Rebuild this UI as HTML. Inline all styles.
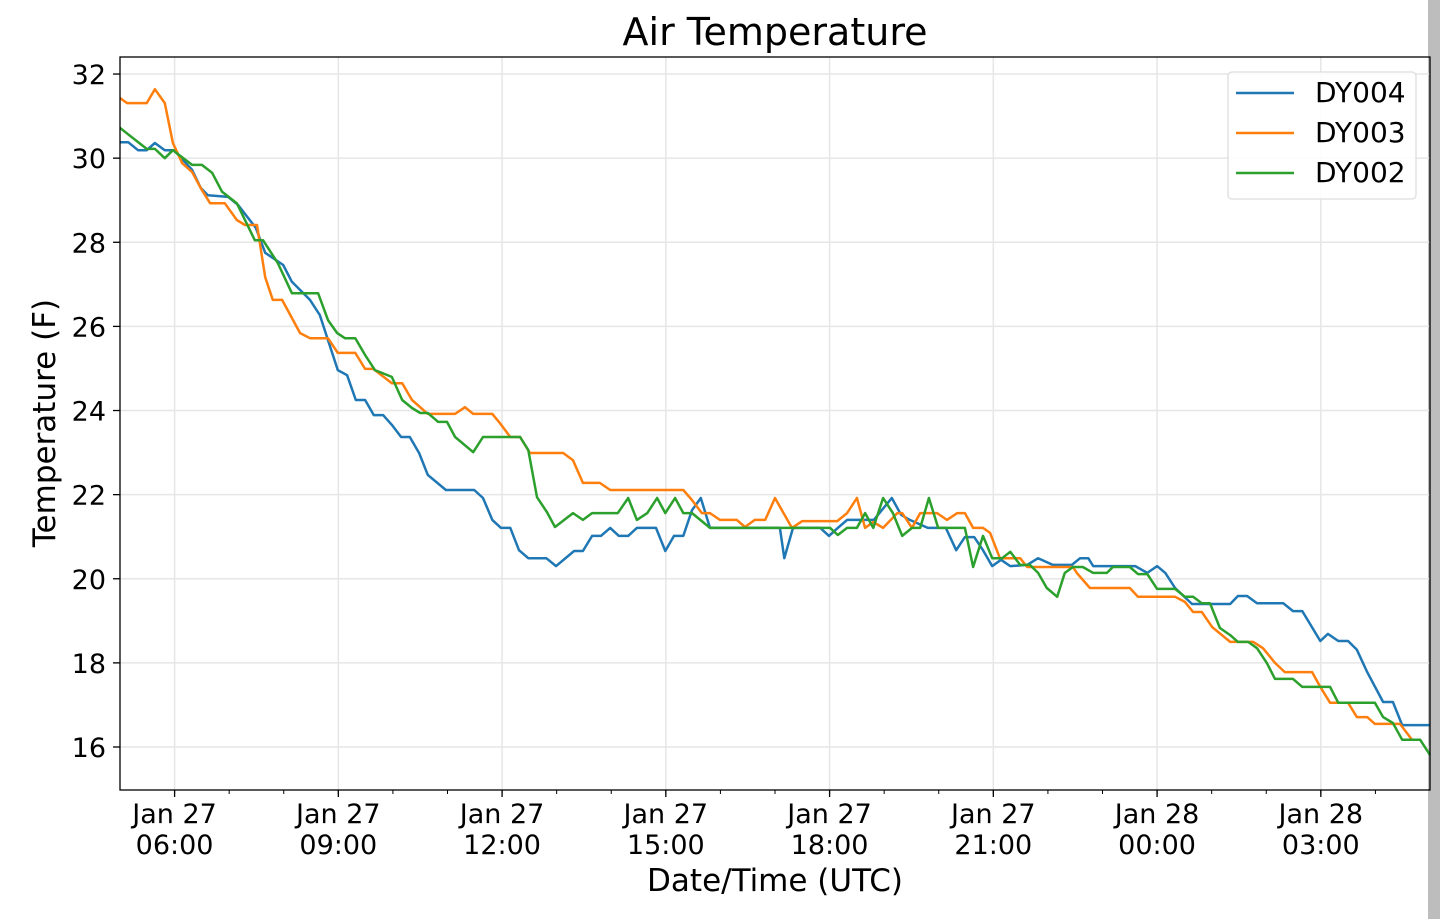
<!DOCTYPE html>
<html><head><meta charset="utf-8"><style>
html,body{margin:0;padding:0;background:#fff;}
svg{display:block;font-family:"DejaVu Sans","Liberation Sans",sans-serif;}
</style></head><body>
<svg id="chart" width="1440" height="919" viewBox="0 0 1440 919" xmlns="http://www.w3.org/2000/svg">
<rect x="0" y="0" width="1440" height="919" fill="#fff"/>
<rect x="1428" y="0" width="12" height="919" fill="#bdbdbd"/>
<text x="775" y="45" font-size="38" text-anchor="middle" fill="#000">Air Temperature</text>
<g id="grid"></g>
<g id="series"></g>
<rect x="120" y="57" width="1310" height="733" fill="none" stroke="#000" stroke-width="1.3"/>
<g id="axes"></g>
<text transform="translate(55,423) rotate(-90)" font-size="31" text-anchor="middle" fill="#000">Temperature (F)</text>
<text x="775" y="891" font-size="31" text-anchor="middle" fill="#000">Date/Time (UTC)</text>
<g>
<rect x="1228" y="72" width="188" height="127" rx="4" fill="#fff" fill-opacity="0.85" stroke="#ddd" stroke-width="1.3"/>
<g><line x1="1236" y1="93" x2="1294" y2="93" stroke="#1f77b4" stroke-width="2.5"/><text x="1315" y="102" font-size="28" fill="#000">DY004</text></g>
<g><line x1="1236" y1="133" x2="1294" y2="133" stroke="#ff7f0e" stroke-width="2.5"/><text x="1315" y="142" font-size="28" fill="#000">DY003</text></g>
<g><line x1="1236" y1="173" x2="1294" y2="173" stroke="#2ca02c" stroke-width="2.5"/><text x="1315" y="182" font-size="28" fill="#000">DY002</text></g>
</g>
</svg>
<script>
// hours since Jan 27 05:00 UTC
const yTicks = [16,18,20,22,24,26,28,30,32];
const xTickHours = [1,4,7,10,13,16,19,22];
const xTickDates = ["Jan 27","Jan 27","Jan 27","Jan 27","Jan 27","Jan 27","Jan 28","Jan 28"];
const xTickTimes = ["06:00","09:00","12:00","15:00","18:00","21:00","00:00","03:00"];

const dy004Hours = [0,.15,.33,.49,.64,.82,.99,1.15,1.32,1.48,1.61,1.98,2.16,2.49,2.66,2.99,3.15,3.48,3.66,3.99,4.16,4.32,4.49,4.65,4.82,4.98,5.15,5.31,5.48,5.64,5.97,6.49,6.65,6.82,6.98,7.15,7.31,7.48,7.81,7.99,8.32,8.48,8.65,8.81,8.98,9.14,9.31,9.47,9.82,9.99,10.15,10.32,10.48,10.64,10.81,12.09,12.17,12.33,12.83,12.99,13.15,13.32,13.81,14.14,14.31,14.47,14.80,15.13,15.32,15.48,15.65,15.81,15.98,16.14,16.31,16.62,16.82,17.09,17.44,17.59,17.74,17.83,18.60,18.82,19.00,19.15,19.33,19.64,20.34,20.48,20.65,20.83,21.31,21.49,21.66,21.99,22.13,22.32,22.50,22.66,22.85,23.14,23.32,23.49,24.00];
const dy004Temps = [30.38,30.38,30.19,30.19,30.36,30.19,30.19,29.96,29.72,29.29,29.12,29.08,28.89,28.34,27.75,27.46,27.06,26.63,26.27,24.96,24.84,24.25,24.25,23.89,23.89,23.66,23.37,23.37,22.99,22.47,22.11,22.11,21.92,21.40,21.21,21.21,20.68,20.49,20.49,20.30,20.66,20.66,21.02,21.02,21.21,21.02,21.02,21.21,21.21,20.66,21.02,21.02,21.63,21.92,21.21,21.21,20.49,21.21,21.21,21.02,21.21,21.40,21.40,21.92,21.52,21.40,21.21,21.21,20.68,20.99,20.99,20.68,20.30,20.45,20.30,20.33,20.49,20.33,20.33,20.49,20.49,20.30,20.30,20.14,20.30,20.14,19.78,19.40,19.40,19.59,19.59,19.42,19.42,19.23,19.23,18.52,18.69,18.52,18.52,18.31,17.78,17.07,17.07,16.52,16.52];

const dy003Hours = [0,.13,.49,.64,.82,.97,1.14,1.32,1.50,1.65,1.92,2.14,2.29,2.51,2.66,2.80,2.97,3.30,3.48,3.81,3.99,4.31,4.49,4.64,4.98,5.17,5.35,5.64,6.14,6.32,6.47,6.82,6.96,7.15,7.33,7.51,8.12,8.30,8.48,8.79,8.98,10.32,10.48,10.66,10.81,10.99,11.30,11.45,11.63,11.82,12.00,12.31,12.50,13.14,13.32,13.50,13.65,13.80,13.98,14.24,14.33,14.51,14.66,14.97,15.15,15.34,15.48,15.63,15.81,15.94,16.12,16.49,16.62,17.46,17.53,17.77,18.50,18.65,19.33,19.51,19.66,19.82,20.01,20.34,20.76,20.94,21.16,21.34,21.84,21.99,22.17,22.50,22.66,22.85,22.99,23.45,23.67];
const dy003Temps = [31.43,31.31,31.31,31.64,31.31,30.36,29.88,29.67,29.24,28.93,28.93,28.53,28.41,28.41,27.17,26.63,26.63,25.84,25.72,25.72,25.37,25.37,24.99,24.99,24.65,24.65,24.25,23.92,23.92,24.08,23.92,23.92,23.70,23.37,23.37,22.99,22.99,22.82,22.28,22.28,22.11,22.11,21.87,21.56,21.56,21.40,21.40,21.23,21.40,21.40,21.92,21.21,21.37,21.37,21.56,21.92,21.21,21.35,21.21,21.56,21.56,21.21,21.56,21.56,21.40,21.56,21.56,21.21,21.21,21.09,20.49,20.49,20.28,20.28,20.14,19.78,19.78,19.57,19.57,19.45,19.21,19.21,18.85,18.50,18.50,18.35,18.00,17.78,17.78,17.43,17.05,17.05,16.71,16.71,16.55,16.55,16.17];

const dy002Hours = [0,.49,.64,.82,.97,1.32,1.50,1.69,1.87,2.14,2.47,2.62,2.89,3.15,3.63,3.81,3.98,4.12,4.31,4.49,4.67,4.98,5.17,5.35,5.50,5.64,5.83,5.99,6.14,6.47,6.65,7.33,7.48,7.64,7.82,7.97,8.30,8.48,8.65,9.12,9.31,9.47,9.66,9.84,9.99,10.17,10.32,10.48,10.81,13.01,13.15,13.32,13.50,13.65,13.80,13.98,14.16,14.33,14.51,14.66,14.82,14.99,15.48,15.63,15.81,15.98,16.16,16.31,16.49,16.67,16.82,16.98,17.17,17.31,17.46,17.64,17.83,18.08,18.19,18.50,18.65,18.82,19.00,19.33,19.51,19.66,19.82,19.97,20.15,20.34,20.48,20.67,20.83,21.01,21.16,21.49,21.66,22.17,22.32,22.99,23.14,23.32,23.49,23.82,24.00];
const dy002Temps = [30.72,30.22,30.22,30.00,30.19,29.84,29.84,29.65,29.20,28.93,28.05,28.05,27.51,26.79,26.79,26.15,25.84,25.72,25.72,25.32,24.96,24.80,24.25,24.06,23.94,23.94,23.73,23.73,23.37,23.01,23.37,23.37,23.06,21.94,21.59,21.23,21.56,21.40,21.56,21.56,21.92,21.40,21.56,21.92,21.56,21.92,21.56,21.56,21.21,21.21,21.04,21.21,21.21,21.56,21.21,21.92,21.56,21.02,21.21,21.21,21.92,21.21,21.21,20.28,21.02,20.49,20.49,20.64,20.33,20.33,20.14,19.78,19.57,20.14,20.28,20.28,20.14,20.14,20.28,20.28,20.11,20.11,19.76,19.76,19.57,19.57,19.42,19.42,18.83,18.66,18.50,18.50,18.35,18.00,17.62,17.62,17.43,17.43,17.05,17.05,16.71,16.57,16.17,16.17,15.81];

const X0=120, X1=1430, Y0=57, Y1=790;
function xs(h){ return X0 + h*(X1-X0)/24; }
function ys(t){ return 747 - (t-16)*42.06; }
const NS="http://www.w3.org/2000/svg";
function mk(tag, attrs, parent){
  const e=document.createElementNS(NS,tag);
  for(const k in attrs) e.setAttribute(k, attrs[k]);
  parent.appendChild(e); return e;
}
const grid=document.getElementById('grid');
const axes=document.getElementById('axes');
const series=document.getElementById('series');

yTicks.forEach(function(t){
  const y=ys(t);
  const g=mk('line',{x1:X0,x2:X1,y1:y,y2:y,stroke:'#e6e6e6','stroke-width':1.5},grid);
  
  
  const tk=mk('line',{x1:X0-7,x2:X0,y1:y,y2:y,stroke:'#000','stroke-width':1.3},axes);
  
  
  const lb=mk('text',{x:X0-14,y:y+10,'font-size':27,'text-anchor':'end',fill:'#000'},axes);
  lb.textContent=String(t);
  
  
});
for(let h=1;h<24;h++){
  const mt=mk('line',{x1:xs(h),x2:xs(h),y1:Y1,y2:Y1+4,stroke:'#000','stroke-width':1},axes);
  
  
}
xTickHours.forEach(function(h,i){
  const x=xs(h);
  const g=mk('line',{x1:x,x2:x,y1:Y0,y2:Y1,stroke:'#e6e6e6','stroke-width':1.5},grid);
  
  
  const tk=mk('line',{x1:x,x2:x,y1:Y1,y2:Y1+7,stroke:'#000','stroke-width':1.3},axes);
  
  
  const l1=mk('text',{x:x,y:823,'font-size':27,'text-anchor':'middle',fill:'#000'},axes);
  l1.textContent=xTickDates[i];
  
  
  const l2=mk('text',{x:x,y:854,'font-size':27,'text-anchor':'middle',fill:'#000'},axes);
  l2.textContent=xTickTimes[i];
  
  
});
function drawLine(hours,temps,color,name){
  const pts=hours.map(function(h,i){return xs(h).toFixed(1)+','+ys(temps[i]).toFixed(1);}).join(' ');
  const p=mk('polyline',{points:pts,fill:'none',stroke:color,'stroke-width':2.5,'stroke-linejoin':'round'},series);
  
  
}
drawLine(dy004Hours,dy004Temps,'#1f77b4','line-dy004');
drawLine(dy003Hours,dy003Temps,'#ff7f0e','line-dy003');
drawLine(dy002Hours,dy002Temps,'#2ca02c','line-dy002');
</script>
</body></html>
